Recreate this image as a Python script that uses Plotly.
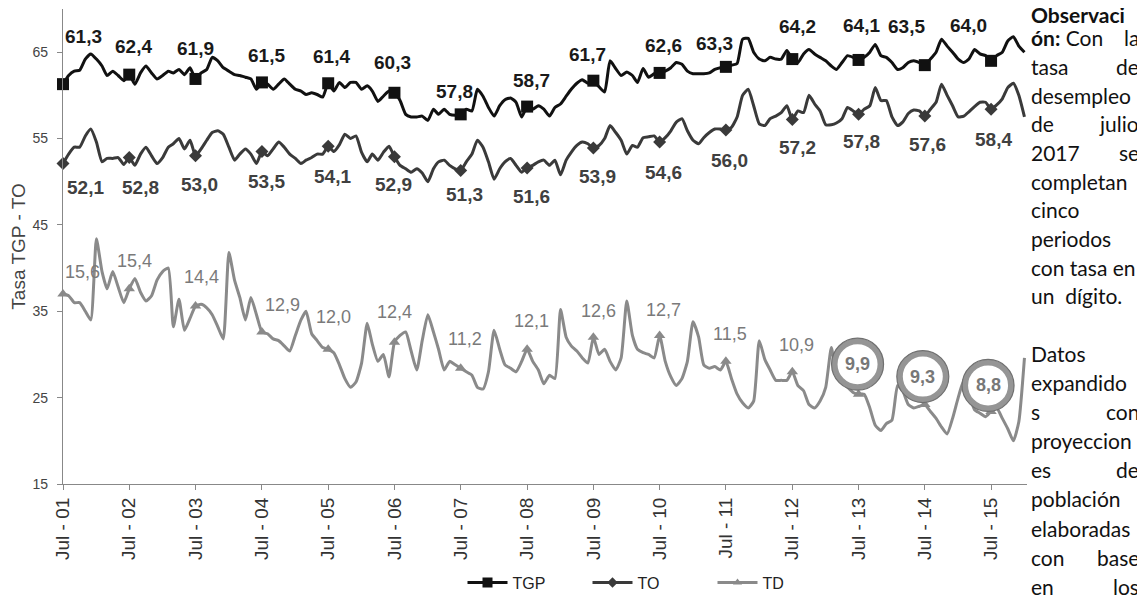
import pandas as pd
import plotly.graph_objects as go

# ---------------- DATA ----------------
inicio = "2001-07-01"

tgp = [61.3, 62.3, 62.8, 62.9, 64.2, 64.8, 64.2, 63.4, 62.3, 62.8, 62.3, 61.7,
       62.4, 61.3, 62.6, 63.4, 62.6, 61.9, 62.3, 62.8, 62.6, 63.0, 62.4, 63.2,
       61.9, 62.6, 63.0, 64.4, 64.0, 63.2, 62.8, 62.4, 62.3, 62.1, 61.9, 60.7,
       61.5, 61.3, 60.7, 61.3, 61.9, 61.3, 60.7, 60.5, 60.1, 60.3, 60.1, 59.8,
       61.4, 60.5, 61.5, 60.9, 61.5, 61.5, 60.7, 61.1, 60.5, 59.3, 59.9, 60.5,
       60.3, 59.4, 57.8, 57.5, 57.5, 57.6, 57.1, 58.4, 57.8, 58.4, 57.8, 57.7,
       57.8, 58.4, 58.2, 60.7, 59.9, 58.6, 57.6, 58.8, 59.5, 59.7, 59.2, 57.5,
       58.7, 58.4, 58.8, 58.4, 57.6, 58.6, 59.0, 59.9, 60.7, 61.4, 61.8, 61.4,
       61.7, 61.0, 60.4, 64.0, 63.1, 62.3, 62.7, 62.3, 61.5, 63.1, 62.1, 62.5,
       62.6, 62.8, 63.2, 63.8, 63.6, 62.8, 62.5, 62.5, 62.5, 62.6, 63.0, 63.2,
       63.3, 63.5, 63.7, 66.5, 66.6, 65.0, 64.2, 64.0, 64.4, 64.2, 64.2, 65.2,
       64.2, 63.8, 64.8, 65.3, 64.8, 64.4, 64.0, 63.4, 63.0, 63.8, 64.6, 64.4,
       64.1, 64.4, 65.0, 65.9, 64.6, 64.4, 63.8, 63.0, 63.2, 63.8, 64.0, 63.8,
       63.5, 64.2, 65.0, 66.5, 65.7, 65.0, 64.2, 63.8, 64.2, 65.3, 64.8, 64.6,
       64.0, 64.6, 65.0, 66.3, 66.8, 65.7, 65.0]

to = [52.1, 53.2, 54.0, 54.0, 55.3, 56.1, 54.6, 52.3, 52.7, 52.7, 52.8, 52.0,
      52.8, 51.9, 53.2, 54.0, 53.0, 52.1, 52.8, 54.0, 54.4, 55.0, 53.8, 54.8,
      53.0, 53.8, 54.8, 55.7, 55.9, 55.5, 54.0, 52.5, 53.2, 53.8, 53.2, 52.1,
      53.5, 53.0, 53.8, 54.6, 54.0, 53.2, 52.7, 52.1, 52.5, 52.8, 53.2, 53.2,
      54.1, 53.5, 54.3, 55.5, 55.0, 55.3, 53.4, 52.3, 53.2, 52.5, 53.4, 54.1,
      52.9, 51.9, 51.5, 51.1, 51.5, 51.0, 50.0, 51.5, 52.3, 52.5, 51.9, 51.5,
      51.3, 52.3, 53.2, 54.8, 54.0, 52.3, 50.3, 51.5, 52.3, 52.7, 51.9, 51.1,
      51.6, 51.9, 52.3, 52.5, 51.9, 52.5, 50.8, 52.5, 53.4, 54.2, 54.6, 54.4,
      53.9, 54.2, 55.0, 56.5, 55.7, 54.8, 53.2, 54.2, 54.0, 55.1, 55.2, 55.3,
      54.6, 55.1, 55.9, 56.9, 57.3, 55.9, 54.8, 54.4, 55.1, 55.7, 56.1, 56.1,
      56.0, 56.3, 57.5, 60.0, 60.7, 58.8, 56.7, 56.5, 57.3, 57.6, 58.0, 58.8,
      57.2, 58.2, 58.0, 60.0, 59.0, 58.2, 56.6, 56.6, 56.8, 57.3, 58.6, 58.2,
      57.8, 58.4, 58.8, 60.9, 59.4, 59.4, 57.5, 56.5, 56.9, 57.9, 58.3, 58.2,
      57.6, 58.4, 59.2, 61.3, 60.0, 58.8, 57.5, 57.6, 58.1, 58.7, 59.2, 59.2,
      58.4, 58.9, 59.6, 60.9, 61.4, 60.0, 57.5]

td = [15.6, 15.5, 15.1, 15.1, 14.6, 14.1, 18.8, 16.9, 15.9, 16.9, 16.0, 15.1,
      15.9, 16.5, 15.7, 15.2, 15.5, 16.4, 16.9, 17.1, 13.7, 15.3, 13.5, 14.2,
      14.9, 15.0, 14.8, 14.4, 13.7, 13.0, 18.0, 16.4, 15.4, 14.1, 15.4, 14.4,
      13.4, 13.3, 13.0, 12.9, 12.6, 12.3, 13.2, 14.1, 14.6, 13.3, 12.9, 12.5,
      12.4, 12.2, 11.5, 10.7, 10.2, 10.5, 11.6, 13.9, 12.7, 11.7, 12.1, 10.8,
      12.8, 13.2, 13.4, 12.3, 11.2, 12.9, 14.4, 13.4, 12.4, 11.2, 11.7, 11.5,
      11.3, 11.1, 10.9, 10.2, 10.1, 11.1, 13.5, 12.4, 11.5, 11.3, 11.1, 11.7,
      12.4, 11.7, 11.2, 10.4, 10.9, 10.7, 14.7, 13.1, 12.6, 12.3, 11.9, 11.6,
      13.1, 12.1, 12.4, 11.7, 11.2, 11.9, 15.2, 13.2, 12.4, 12.2, 12.1, 11.9,
      13.2, 11.7, 10.8, 10.3, 10.7, 11.7, 14.0, 13.1, 11.5, 11.3, 11.4, 11.2,
      11.7, 10.7, 9.8, 9.3, 9.0, 9.4, 12.9, 11.8, 11.2, 10.6, 10.6, 10.6,
      11.1, 10.3, 10.0, 9.2, 9.0, 9.4, 10.2, 12.5, 10.9, 10.5, 10.2, 9.9,
      9.8, 9.8, 9.0, 8.0, 7.7, 8.1, 8.3, 10.3, 10.0, 9.2, 9.0, 9.1,
      9.2, 8.8, 8.4, 7.9, 7.5, 8.4, 9.6, 10.6, 9.8, 8.9, 8.7, 8.5,
      8.8, 9.0, 8.4, 7.8, 7.1, 8.2, 11.9]

anios = list(range(2001, 2016))
tgp_etq = [61.3, 62.4, 61.9, 61.5, 61.4, 60.3, 57.8, 58.7, 61.7, 62.6, 63.3, 64.2, 64.1, 63.5, 64.0]
to_etq = [52.1, 52.8, 53.0, 53.5, 54.1, 52.9, 51.3, 51.6, 53.9, 54.6, 56.0, 57.2, 57.8, 57.6, 58.4]
td_etq = [15.6, 15.4, 14.4, 12.9, 12.0, 12.4, 11.2, 12.1, 12.6, 12.7, 11.5, 10.9, 9.9, 9.3, 8.8]

y_ticks = [15, 25, 35, 45, 55, 65]

# ---------------- STYLE / LAYOUT HELPERS ----------------
# The page body has an 8px default margin: the figure is sized to the window minus it.
OFF = 8
W, H = 1145 - OFF, 600 - OFF
ML, MT, PW, PH = 63 - OFF, 9 - OFF, 964, 477
MR, MB = W - ML - PW, H - MT - PH

def px_x(p):  # window pixel -> paper x
    return (p - OFF - ML) / PW

def px_y(p):  # window pixel -> paper y
    return (MT + PH - (p - OFF)) / PH

C_TGP, C_TO, C_TD = "#111111", "#3a3a3a", "#8a8a8a"
FONT = "Liberation Sans, Arial, sans-serif"

fechas = pd.date_range(inicio, periods=len(tgp), freq="MS")
jul = [i for i, f in enumerate(fechas) if f.month == 7]
fj = [fechas[i] for i in jul]

fig = go.Figure()

series = [
    ("TGP", tgp, C_TGP, "square", 12, "y"),
    ("TO", to, C_TO, "diamond", 10, "y"),
    ("TD", td, C_TD, "triangle-up", 10, "y2"),
]
for name, vals, col, sym, size, ax in series:
    fig.add_trace(go.Scatter(x=fechas, y=vals, mode="lines", yaxis=ax,
                             line=dict(color=col, width=3, shape="spline", smoothing=0.5),
                             showlegend=False, hoverinfo="skip"))
    fig.add_trace(go.Scatter(x=fj, y=[vals[i] for i in jul], mode="markers", yaxis=ax,
                             marker=dict(symbol=sym, size=size, color=col),
                             cliponaxis=False, showlegend=False))
for name, vals, col, sym, size, ax in series:
    fig.add_trace(go.Scatter(x=[None], y=[None], mode="lines+markers", name=name,
                             line=dict(color=col, width=3),
                             marker=dict(symbol=sym, size=size - 2, color=col)))

def fmt(v):
    return f"{v:.1f}".replace(".", ",")

annotations = []
tgp_shift = [(20, 48), (4, 28), (0, 30), (5, 27), (3, 27), (-2, 30), (-6, 23), (4, 26),
             (-6, 26), (4, 27), (-11, 23), (5, 33), (3, 34), (-18, 39), (-23, 35)]
to_shift = [(22, -24), (11, -30), (4, -29), (5, -30), (4, -30), (-1, -28), (4, -24), (4, -29),
            (4, -28), (4, -30), (4, -31), (5, -28), (3, -27), (3, -28), (2, -30)]
td_shift = [(19, 22), (5, 28), (6, 29), (21, 27), (5, 32), (0, 30), (4, 29), (4, 28),
            (5, 26), (4, 25), (4, 27), (4, 27), (-1, 30), (-2, 28), (-3, 26)]

for k, i in enumerate(jul):
    annotations.append(dict(x=fechas[i], y=tgp[i], xref="x", yref="y", text=fmt(tgp_etq[k]),
                            showarrow=False, xshift=tgp_shift[k][0], yshift=tgp_shift[k][1],
                            font=dict(family=FONT, size=19, color="#1a1a1a", weight="bold")))
    annotations.append(dict(x=fechas[i], y=to[i], xref="x", yref="y", text=fmt(to_etq[k]),
                            showarrow=False, xshift=to_shift[k][0], yshift=to_shift[k][1],
                            font=dict(family=FONT, size=19, color="#404040", weight="bold")))
    if k < 12:
        annotations.append(dict(x=fechas[i], y=td[i], xref="x", yref="y2", text=fmt(td_etq[k]),
                                showarrow=False, xshift=td_shift[k][0], yshift=td_shift[k][1],
                                font=dict(family=FONT, size=18, color="#7a7a7a")))

shapes = []
for k in range(12, 15):
    i = jul[k]
    dx, dy = td_shift[k]
    R = 23
    shapes.append(dict(type="circle", xref="x", yref="y2", xsizemode="pixel", ysizemode="pixel",
                       xanchor=fechas[i], yanchor=td[i],
                       x0=dx - R, x1=dx + R, y0=dy - R, y1=dy + R,
                       fillcolor="white", line=dict(color="#959595", width=6), layer="above"))
    shapes.append(dict(type="circle", xref="x", yref="y2", xsizemode="pixel", ysizemode="pixel",
                       xanchor=fechas[i], yanchor=td[i],
                       x0=dx - R - 3, x1=dx + R + 3, y0=dy - R - 3, y1=dy + R + 3,
                       line=dict(color="#707070", width=1.2), layer="above"))
    annotations.append(dict(x=fechas[i], y=td[i], xref="x", yref="y2", text=fmt(td_etq[k]),
                            showarrow=False, xshift=dx, yshift=dy,
                            font=dict(family=FONT, size=18, color="#777777", weight="bold")))

# side text (justified narrow column)
TXT_FONT = "Lato, Noto Sans, sans-serif"
TXT_SIZE = 21
obs_lines = [("ón:", "Con", "la"), ("tasa", "", "de"), ("desempleo", "", ""),
             ("de", "", "julio"), ("2017", "", "se"), ("completan", "", ""), ("cinco", "", ""),
             ("periodos", "", ""), ("con tasa en", "", ""), ("un  dígito.", "", "")]
datos_lines = [("Datos", "", ""), ("expandido", "", ""), ("s", "", "con"), ("proyeccion", "", ""),
               ("es", "", "de"), ("población", "", ""), ("elaboradas", "", ""), ("con", "", "base"),
               ("en", "", "los")]
XL, XR = 1029, 1141

def side_text(text, x, y, anchor):
    annotations.append(dict(x=px_x(x), y=px_y(y), xref="paper", yref="paper", text=text,
                            showarrow=False, xanchor=anchor, yanchor="middle",
                            font=dict(family=TXT_FONT, size=TXT_SIZE, color="#111")))

side_text("<b>Observaci</b>", XL, 15, "left")
for block, y0, step in [(obs_lines, 38, 28.8), (datos_lines, 355, 29.2)]:
    for j, (left, mid, right) in enumerate(block):
        yy = y0 + j * step
        if mid:
            side_text(f"<b>{left}</b> {mid}", XL, yy, "left")
        else:
            side_text(left, XL, yy, "left")
        if right:
            side_text(right, XR, yy, "right")

fig.update_layout(
    width=W, height=H, autosize=False,
    margin=dict(l=ML, r=MR, t=MT, b=MB),
    paper_bgcolor="white", plot_bgcolor="white",
    font=dict(family=FONT, color="#333"),
    xaxis=dict(type="date", range=[fechas[0], "2016-01-15"], tickvals=fj,
               ticktext=[f"Jul - {a % 100:02d}" for a in anios], tickangle=-90,
               ticks="outside", ticklen=5, tickcolor="#888", showline=True, linecolor="#888",
               linewidth=1.2, showgrid=False, zeroline=False, automargin=False,
               tickfont=dict(family=FONT, size=19, color="#333")),
    yaxis=dict(range=[15, 70], tickvals=y_ticks, ticks="outside", ticklen=5, tickcolor="#888",
               showline=True, linecolor="#888", linewidth=1.2, showgrid=False, zeroline=False,
               ticklabelstandoff=6, automargin=False,
               tickfont=dict(family=FONT, size=14, color="#444"),
               title=dict(text="Tasa TGP - TO", font=dict(family=FONT, size=19, color="#444"), standoff=8)),
    yaxis2=dict(range=[4.6, 32.1], overlaying="y", visible=False),
    legend=dict(orientation="h", x=px_x(650), xanchor="center", y=px_y(585), yanchor="middle",
                font=dict(family=FONT, size=16, color="#222"), entrywidth=70, entrywidthmode="pixels",
                itemwidth=40, bgcolor="rgba(0,0,0,0)"),
    shapes=shapes, annotations=annotations,
)

fig.write_html("out.html")
